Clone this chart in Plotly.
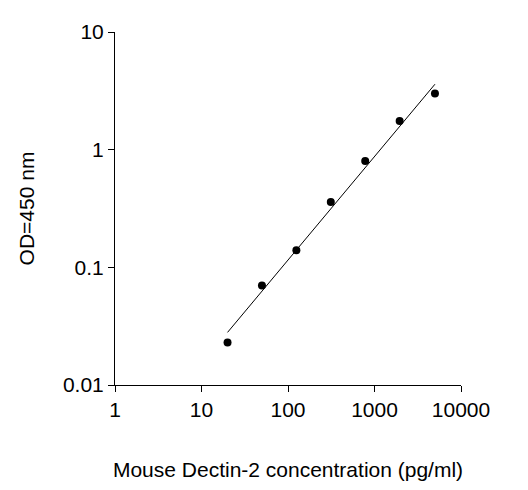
import plotly.graph_objects as go

# Standard curve data
conc = [20, 50, 125, 312.5, 781, 1953, 5000]
od = [0.023, 0.07, 0.14, 0.36, 0.80, 1.75, 3.0]

# Fitted line endpoints
fit_x = [20, 5000]
fit_y = [0.028, 3.6]

x_ticks = [1, 10, 100, 1000, 10000]
y_ticks = [0.01, 0.1, 1, 10]

fig = go.Figure()
fig.add_trace(go.Scatter(x=fit_x, y=fit_y, mode='lines',
                         line=dict(color='black', width=1), showlegend=False))
fig.add_trace(go.Scatter(x=conc, y=od, mode='markers',
                         marker=dict(color='black', size=8), showlegend=False))

axis_font = dict(family='Liberation Sans, Arial', size=21, color='black')
fig.update_layout(
    width=528, height=490,
    margin=dict(l=107, r=75, t=12, b=113),
    plot_bgcolor='white', paper_bgcolor='white',
    xaxis=dict(type='log', range=[0, 4], tickvals=x_ticks,
               ticktext=[str(v) for v in x_ticks],
               showline=True, linecolor='black', linewidth=1, mirror=False,
               ticks='outside', ticklen=6, tickcolor='black',
               showgrid=False, zeroline=False, tickfont=axis_font,
               title=dict(text='Mouse Dectin-2 concentration (pg/ml)',
                          font=axis_font, standoff=42)),
    yaxis=dict(type='log', range=[-2, 1], tickvals=y_ticks,
               ticktext=['0.01', '0.1', '1', '10'],
               showline=True, linecolor='black', linewidth=1, mirror=False,
               ticks='outside', ticklen=6, tickcolor='black',
               showgrid=False, zeroline=False, tickfont=axis_font,
               title=dict(text='OD=450 nm', font=axis_font, standoff=22)),
)

fig.write_html("out.html")
